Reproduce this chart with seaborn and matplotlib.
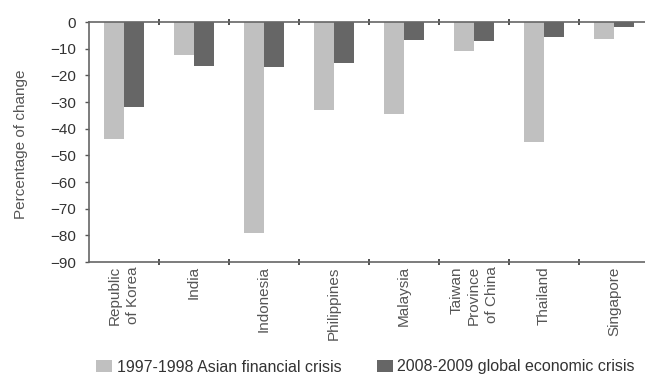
import matplotlib
matplotlib.use("Agg")
import matplotlib.pyplot as plt
import seaborn as sns
import pandas as pd
import numpy as np
from matplotlib.ticker import FixedLocator

categories = ["Republic\nof Korea", "India", "Indonesia", "Philippines", "Malaysia",
              "Taiwan\nProvince\nof China", "Thailand", "Singapore"]
asian_crisis = [-44, -12.5, -79, -33, -34.5, -11, -45, -6.4]
global_crisis = [-32, -16.5, -17, -15.5, -6.7, -7, -5.6, -2]
series_names = ["1997-1998 Asian financial crisis", "2008-2009 global economic crisis"]
yticks = list(range(-90, 1, 10))

df = pd.DataFrame({
    "country": categories * 2,
    "value": asian_crisis + global_crisis,
    "series": [series_names[0]] * len(categories) + [series_names[1]] * len(categories),
})

sns.set_theme(style="white")
plt.rcParams['font.family'] = ['Liberation Sans', 'DejaVu Sans']

fig = plt.figure(figsize=(6.45, 3.75), dpi=100)
ax = fig.add_axes([89/645, 113/375, 560/645, 240/375])

sns.barplot(data=df, x="country", y="value", hue="series", ax=ax,
            palette=["#c0c0c0", "#666666"], width=0.56, gap=0, saturation=1,
            edgecolor="none", linewidth=0, legend=True)

ax.set_ylim(-90, 0)
ax.set_xlim(-0.5, len(categories) - 0.5)
ax.set_yticks(yticks)
ax.set_yticklabels([f"\u2212{abs(t)}" if t < 0 else "0" for t in yticks], fontsize=11, color="#333333")
ax.set_xticks(range(len(categories)))
ax.set_xticklabels(categories, rotation=90, fontsize=11, color="#555555",
                   va="top", ha="center", multialignment="right", linespacing=1.35)
ax.xaxis.set_minor_locator(FixedLocator(np.arange(0.5, len(categories) - 0.5, 1)))
ax.tick_params(axis="x", which="major", length=0, pad=3)
ax.tick_params(axis="x", which="minor", length=4, width=1.2, color="#333333",
               direction="inout", top=True, bottom=True)
ax.tick_params(axis="y", which="major", length=3, width=1, color="#555555",
               direction="out", left=True, pad=6.5)

ax.set_xlabel("")
ax.set_ylabel("Percentage of change", fontsize=11, color="#555555")
ax.yaxis.set_label_coords(-0.109, 0.49)

for s in ["left", "bottom", "top"]:
    ax.spines[s].set_color("#666666")
    ax.spines[s].set_linewidth(1.2)
ax.spines["right"].set_visible(False)

handles, labels = ax.get_legend_handles_labels()
ax.get_legend().remove()
fig.legend(handles, labels, loc="center left", bbox_to_anchor=(96/645, 1 - 367/375), ncol=2,
           frameon=False, fontsize=11.5, handlelength=1.0, handleheight=0.85,
           columnspacing=2.2, handletextpad=0.3, borderpad=0, borderaxespad=0,
           labelcolor="#333333")

fig.savefig("out.png", dpi=100)
